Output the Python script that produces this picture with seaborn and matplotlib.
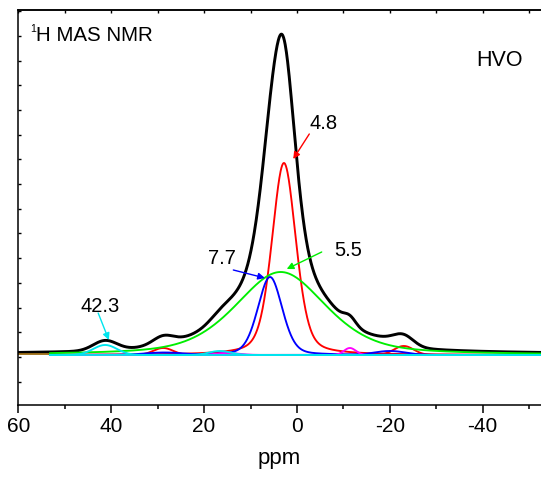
import numpy as np
import pandas as pd
import seaborn as sns
import matplotlib.pyplot as plt
from matplotlib.ticker import MultipleLocator, NullFormatter

# fitted peaks: position (ppm), height (a.u.), fwhm (ppm), lorentz fraction
red_pos = [2.8, 28.8, -23.0]
red_hgt = [192, 7, 9]
red_fwhm = [6.1, 5.0, 5.0]
red_eta = [0.35, 0.0, 0.0]

green_pos = [3.5]
green_hgt = [83]
green_fwhm = [23.0]
green_eta = [0.45]

blue_pos = [5.8, 28.5, -20.0]
blue_hgt = [78, 2.5, 4]
blue_fwhm = [6.2, 10.0, 8.0]
blue_eta = [0.25, 0.0, 0.0]

cyan_pos = [41.3, 16.6]
cyan_hgt = [10, 4]
cyan_fwhm = [6.0, 5.5]
cyan_eta = [0.0, 0.0]

magenta_pos = [-11.4, 15.0]
magenta_hgt = [7, 2]
magenta_fwhm = [3.0, 6.0]
magenta_eta = [0.0, 0.0]

# peak labels: text, label position, arrow tail, arrow head, colour
labels = ['4.8', '5.5', '7.7', '42.3']
label_xy = [(-5.7, 231), (-11.0, 104), (16.1, 96), (42.3, 48)]
arrow_from = [(-2.66, 221), (-5.33, 103), (13.7, 85), (42.8, 42)]
arrow_to = [(0.8, 196), (2.2, 86), (6.9, 77), (40.5, 15)]
label_colors = ['#ff0000', '#00ee00', '#0000ff', '#00e5ee']


def pvoigt(x, c, h, w, eta):
    g = np.exp(-4 * np.log(2) * ((x - c) / w) ** 2)
    l = 1 / (1 + 4 * ((x - c) / w) ** 2)
    return h * (eta * l + (1 - eta) * g)


x_fit = np.linspace(53.2, -52.6, 1200)
x_all = np.linspace(60, -52.6, 1300)

groups = [
    ('#ff0000', red_pos, red_hgt, red_fwhm, red_eta),
    ('#00ee00', green_pos, green_hgt, green_fwhm, green_eta),
    ('#0000ff', blue_pos, blue_hgt, blue_fwhm, blue_eta),
    ('#ff00ff', magenta_pos, magenta_hgt, magenta_fwhm, magenta_eta),
    ('#00e5ee', cyan_pos, cyan_hgt, cyan_fwhm, cyan_eta),
]

sns.set_style('ticks')
plt.rcParams['font.family'] = ['Liberation Sans', 'DejaVu Sans']
plt.rcParams['axes.unicode_minus'] = False
for k in ['text.color', 'axes.labelcolor', 'xtick.color', 'ytick.color', 'axes.edgecolor']:
    plt.rcParams[k] = 'black'

fig = plt.figure(figsize=(5.41, 4.79), dpi=100)
ax = fig.add_axes([0.0338, 0.1545, 0.9662, 0.8236])

total = np.zeros_like(x_all)
for col, pos, hgt, fw, eta in groups:
    for c, h, w, e in zip(pos, hgt, fw, eta):
        total += pvoigt(x_all, c, h, w, e)

sns.lineplot(x=x_all, y=total + 0.8, color='black', lw=2.1, ax=ax, estimator=None, sort=False)
ax.plot([60, 53.2], [0.6, 0.6], color='#9a6a10', lw=1.3)

for col, pos, hgt, fw, eta in groups:
    for c, h, w, e in zip(pos, hgt, fw, eta):
        sns.lineplot(x=x_fit, y=pvoigt(x_fit, c, h, w, e), color=col, lw=1.35,
                     ax=ax, estimator=None, sort=False)

for t, lxy, a0, a1, col in zip(labels, label_xy, arrow_from, arrow_to, label_colors):
    ax.annotate('', xy=a1, xytext=a0,
                arrowprops=dict(arrowstyle='-|>', color=col, lw=1.0, mutation_scale=10,
                                shrinkA=0, shrinkB=0))
    ax.text(lxy[0], lxy[1], t, fontsize=14.5, ha='center', va='center')

ax.set_xlim(60, -52.55)
ax.set_ylim(-50, 344.5)

ax.xaxis.set_major_locator(MultipleLocator(20))
ax.xaxis.set_minor_locator(MultipleLocator(10))
ax.tick_params(axis='x', which='major', direction='out', length=6, width=1.1,
               labelsize=15, pad=3, top=False)
ax.tick_params(axis='x', which='minor', direction='out', length=3, width=1.1, top=False)

ax.yaxis.set_major_locator(MultipleLocator(24.7, offset=-2))
ax.yaxis.set_major_formatter(NullFormatter())
ax.tick_params(axis='y', which='major', direction='in', length=2.5, width=1.0)

top = ax.secondary_xaxis('top')
top.xaxis.set_major_locator(MultipleLocator(10))
top.tick_params(direction='in', length=2.5, width=1.0, labeltop=False)
top.spines['top'].set_linewidth(1.1)

for s in ['left', 'bottom', 'top']:
    ax.spines[s].set_linewidth(1.1)
ax.spines['right'].set_visible(False)

ax.set_xlabel('ppm', fontsize=16, labelpad=8)
ax.set_ylabel('')

ax.text(0.0225, 0.966, '1', transform=ax.transAxes, fontsize=7.5, va='top', ha='left')
ax.text(0.0335, 0.923, 'H MAS NMR', transform=ax.transAxes, fontsize=14.8, va='baseline', ha='left')
ax.text(0.8757, 0.859, 'HVO', transform=ax.transAxes, fontsize=15.5, va='baseline', ha='left')

fig.savefig('out.png', dpi=100)
